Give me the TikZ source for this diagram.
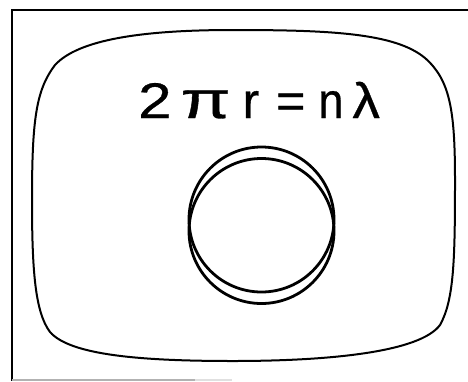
\documentclass[tikz,border=0pt]{standalone}
\usepackage{fontspec}
\setmainfont{Liberation Sans}
\newfontfamily\heavyfont[FakeBold=0.6]{Liberation Sans}
\begin{document}
\begin{tikzpicture}[x=1pt,y=-1pt,
  frameline/.style={line width=1.8pt,black},
  screen/.style={line width=2pt,black},
  ring/.style={line width=2.8pt,black},
  formula/.style={font=\heavyfont\fontsize{50}{50}\selectfont,inner sep=0pt,anchor=base west}]
\useasboundingbox (0,0) rectangle (468,381);
\fill[white] (0,0) rectangle (468,381);
% outer frame
\draw[frameline] (468,10) -- (12,10) -- (12,381);
\draw[line width=1.2pt,black!30] (12,380) -- (195,380);
\draw[line width=1.2pt,black!12] (195,380) -- (232,380);
% screen outline
\draw[screen] (233,30) .. controls (330,30) and (395,33) .. (425,58)
  .. controls (450,80) and (455,110) .. (455,180)
  .. controls (455,260) and (454,300) .. (440,325)
  .. controls (420,352) and (330,361) .. (233,361)
  .. controls (140,361) and (70,355) .. (50,332)
  .. controls (35,312) and (32,270) .. (32,200)
  .. controls (32,120) and (36,90) .. (55,65)
  .. controls (78,40) and (140,30) .. cycle;
% formula
\node[formula] (eq) at (138,118) {\scalebox{1.2}[1]{2}\hspace{9pt}\scalebox{1.45}[1.05]{π}\hspace{12pt}r\hspace{17pt}=\hspace{13pt}\scalebox{0.9}[1]{n}\hspace{9pt}\scalebox{1.1}[1]{λ}};
% two circles
\node[ring,draw,circle,minimum size=145pt,inner sep=0pt] (c1) at (261.5,219.5) {};
\node[ring,draw,circle,minimum size=145pt,inner sep=0pt] (c2) at (261.5,231) {};
\end{tikzpicture}
\end{document}
